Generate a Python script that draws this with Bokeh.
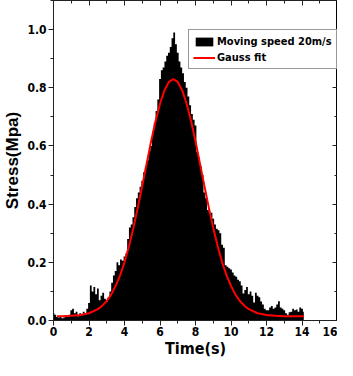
from bokeh.plotting import figure
from bokeh.models import (LinearAxis, Range1d, SingleIntervalTicker, Legend,
                          LegendItem, PrintfTickFormatter, CustomLabelingPolicy)
from bokeh.embed import file_html
from bokeh.resources import INLINE

# ---- data ----
time_step = 0.1
stress = [
    0.025, 0.020, 0.012, 0.010, 0.012, 0.008, 0.010, 0.015, 0.012, 0.020,
    0.035, 0.040, 0.025, 0.030, 0.015, 0.025, 0.020, 0.030, 0.025, 0.040,
    0.060, 0.120, 0.100, 0.115, 0.090, 0.110, 0.070, 0.085, 0.095, 0.075,
    0.065, 0.080, 0.100, 0.130, 0.155, 0.170, 0.200, 0.190, 0.210, 0.205,
    0.220, 0.230, 0.280, 0.320, 0.330, 0.355, 0.390, 0.420, 0.440, 0.460,
    0.480, 0.510, 0.530, 0.550, 0.580, 0.600, 0.650, 0.680, 0.720, 0.760,
    0.830, 0.860, 0.870, 0.890, 0.910, 0.920, 0.940, 0.970, 0.990, 0.950,
    0.920, 0.890, 0.870, 0.850, 0.820, 0.800, 0.770, 0.740, 0.710, 0.690,
    0.670, 0.580, 0.560, 0.530, 0.500, 0.440, 0.420, 0.380, 0.370, 0.370,
    0.350, 0.330, 0.315, 0.310, 0.300, 0.260, 0.250, 0.190, 0.185, 0.180,
    0.175, 0.165, 0.155, 0.150, 0.140, 0.135, 0.120, 0.093, 0.105, 0.115,
    0.090, 0.100, 0.085, 0.062, 0.095, 0.085, 0.080, 0.065, 0.055, 0.040,
    0.035, 0.035, 0.045, 0.050, 0.040, 0.045, 0.055, 0.066, 0.045, 0.040,
    0.035, 0.025, 0.020, 0.028, 0.030, 0.040, 0.035, 0.038, 0.030, 0.045,
    0.040, 0.030,
]
time = [round(i * time_step, 1) for i in range(len(stress))]

fit_time = [0.2, 0.5, 1.0, 1.5, 2.0, 2.5, 2.75, 3.0, 3.25, 3.5, 3.75, 4.0,
            4.25, 4.5, 4.75, 5.0, 5.25, 5.5, 5.75, 6.0, 6.25, 6.5, 6.75,
            7.0, 7.25, 7.5, 7.75, 8.0, 8.25, 8.5, 8.75, 9.0, 9.25, 9.5,
            9.75, 10.0, 10.25, 10.5, 10.75, 11.0, 11.5, 12.0, 12.5, 13.0,
            13.5, 14.1]
fit_stress = [0.015, 0.015, 0.016, 0.019, 0.025, 0.039, 0.051, 0.067, 0.089,
              0.119, 0.155, 0.200, 0.255, 0.318, 0.388, 0.463, 0.540, 0.616,
              0.686, 0.745, 0.791, 0.820, 0.830, 0.820, 0.791, 0.745, 0.686,
              0.616, 0.540, 0.463, 0.388, 0.318, 0.255, 0.200, 0.155, 0.119,
              0.089, 0.067, 0.051, 0.039, 0.025, 0.019, 0.016, 0.015, 0.015,
              0.015]

series_labels = ["Moving speed 20m/s", "Gauss fit"]
x_title = "Time(s)"
y_title = "Stress(Mpa)"

COND = "DejaVu Sans Condensed, Liberation Sans"

p = figure(width=337, height=360, x_range=Range1d(0, 16), y_range=Range1d(0, 1.1),
           output_backend="svg", toolbar_location=None,
           min_border_left=10, min_border_right=0, min_border_top=0,
           min_border_bottom=10)
p.xgrid.visible = False
p.ygrid.visible = False
p.outline_line_color = "black"
p.outline_line_width = 1
p.background_fill_color = "white"

area = p.varea_step(x=time, y1=[0] * len(time), y2=stress, step_mode="center",
                    fill_color="black")
fit = p.line(fit_time, fit_stress, line_color="red", line_width=2)

def style_main(ax):
    ax.axis_line_color = "#222222"
    ax.axis_line_width = 1
    ax.major_tick_line_color = "#222222"
    ax.minor_tick_line_color = "#222222"
    ax.major_tick_out = 5
    ax.major_tick_in = 0
    ax.minor_tick_out = 3
    ax.minor_tick_in = 0
    ax.major_label_text_font = COND
    ax.major_label_text_font_style = "bold"
    ax.major_label_text_font_size = "12px"
    ax.major_label_text_color = "black"
    ax.major_label_standoff = 1
    ax.axis_label_text_color = "black"
    ax.axis_label_text_font_style = "bold"

xa = p.xaxis[0]
xa.ticker = SingleIntervalTicker(interval=2, num_minor_ticks=2)
style_main(xa)
xa.axis_label = x_title
xa.axis_label_text_font = COND
xa.axis_label_text_font_size = "16px"
xa.axis_label_standoff = 0

ya = p.yaxis[0]
ya.ticker = SingleIntervalTicker(interval=0.2, num_minor_ticks=2)
ya.formatter = PrintfTickFormatter(format="%.1f")
style_main(ya)
ya.major_label_standoff = 2
ya.axis_label = y_title
ya.axis_label_text_font = "Liberation Sans"
ya.axis_label_text_font_size = "17px"
ya.axis_label_standoff = 2

no_labels = "return new Set()"

def side_axis(ticker):
    ax = LinearAxis(ticker=ticker)
    ax.major_label_policy = CustomLabelingPolicy(code=no_labels)
    ax.major_label_text_font_size = "0px"
    ax.major_label_standoff = 0
    ax.axis_line_color = "#222222"
    ax.major_tick_line_color = "#222222"
    ax.minor_tick_line_color = "#222222"
    ax.major_tick_in = 5
    ax.major_tick_out = 0
    ax.minor_tick_in = 3
    ax.minor_tick_out = 0
    return ax

p.add_layout(side_axis(SingleIntervalTicker(interval=2, num_minor_ticks=2)), "above")
p.add_layout(side_axis(SingleIntervalTicker(interval=0.2, num_minor_ticks=2)), "right")

legend = Legend(items=[LegendItem(label=series_labels[0], renderers=[area]),
                       LegendItem(label=series_labels[1], renderers=[fit])],
                location=(135, 251))
legend.glyph_width = 22
legend.glyph_height = 11
legend.label_height = 14
legend.label_standoff = 2
legend.spacing = 2
legend.padding = 4
legend.margin = 0
legend.label_text_font = COND
legend.label_text_font_style = "bold"
legend.label_text_font_size = "11px"
legend.label_text_color = "black"
legend.border_line_color = "#333333"
legend.border_line_width = 1
legend.background_fill_color = "white"
legend.background_fill_alpha = 1
p.add_layout(legend)

open("out.html", "w").write(file_html(p, INLINE))
